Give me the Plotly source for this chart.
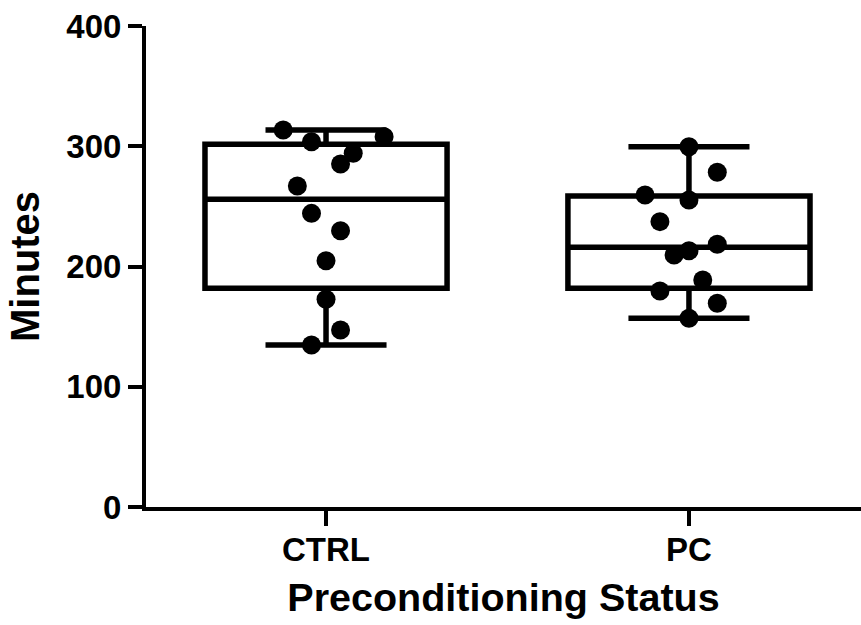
import plotly.graph_objects as go

# ---- data ----
categories = ["CTRL", "PC"]
ctrl_values = [313.5, 303.8, 308.0, 294.1, 285.2, 266.9, 244.2, 229.8, 204.8, 172.7, 147.2, 134.7]
pc_values = [299.6, 278.3, 259.5, 255.3, 237.3, 218.5, 213.1, 209.6, 188.8, 179.6, 169.4, 156.9]
# horizontal spread of the dots (scatter layout, in category units)
ctrl_spread = [-0.118, -0.040, 0.160, 0.075, 0.040, -0.079, -0.040, 0.040, 0.0, 0.0, 0.040, -0.040]
pc_spread = [0.0, 0.078, -0.121, 0.0, -0.080, 0.078, 0.0, -0.041, 0.038, -0.080, 0.078, 0.0]

# box summary statistics (as drawn)
q1_vals = [181.9, 181.9]
median_vals = [255.9, 216.0]
q3_vals = [301.6, 258.6]
low_vals = [134.7, 156.9]
high_vals = [313.5, 299.6]

y_ticks = [0, 100, 200, 300, 400]

FONT = "Liberation Sans, Arial, sans-serif"

fig = go.Figure()

for i, cat in enumerate(categories):
    fig.add_trace(go.Box(
        x=[i], q1=[q1_vals[i]], median=[median_vals[i]], q3=[q3_vals[i]],
        lowerfence=[low_vals[i]], upperfence=[high_vals[i]],
        width=0.667, whiskerwidth=0.5,
        line=dict(color="black", width=5.5),
        fillcolor="rgba(255,255,255,0)",
        boxpoints=False, name=cat, showlegend=False, hoverinfo="skip",
    ))

for i, (vals, spread) in enumerate([(ctrl_values, ctrl_spread), (pc_values, pc_spread)]):
    fig.add_trace(go.Scatter(
        x=[i + s for s in spread], y=vals, mode="markers",
        marker=dict(color="black", size=19, line=dict(width=0)),
        showlegend=False, hoverinfo="y",
    ))

fig.update_layout(
    width=861, height=625,
    margin=dict(l=146, r=0, t=26, b=118),
    plot_bgcolor="white", paper_bgcolor="white",
    font=dict(family=FONT, color="black"),
    boxmode="overlay",
)

fig.update_xaxes(
    range=[-0.496, 1.474], tickmode="array", tickvals=[0, 1], ticktext=categories,
    showline=True, linecolor="black", linewidth=4,
    ticks="outside", ticklen=15, tickwidth=4, tickcolor="black",
    ticklabelstandoff=-5,
    showgrid=False, zeroline=False,
    tickfont=dict(family=FONT, size=33, color="black", weight="bold"),
    title=dict(text="<b>Preconditioning Status</b>", font=dict(family=FONT, size=39.5, color="black"), standoff=18),
)
fig.update_yaxes(
    range=[0, 400], tickmode="array", tickvals=y_ticks, ticktext=[str(t) for t in y_ticks],
    showline=True, linecolor="black", linewidth=4,
    ticks="outside", ticklen=14, tickwidth=4, tickcolor="black",
    showgrid=False, zeroline=False,
    tickfont=dict(family=FONT, size=33, color="black", weight="bold"),
    title=dict(text="<b>Minutes</b>", font=dict(family=FONT, size=40, color="black"), standoff=15),
)

fig.write_html("out.html")
